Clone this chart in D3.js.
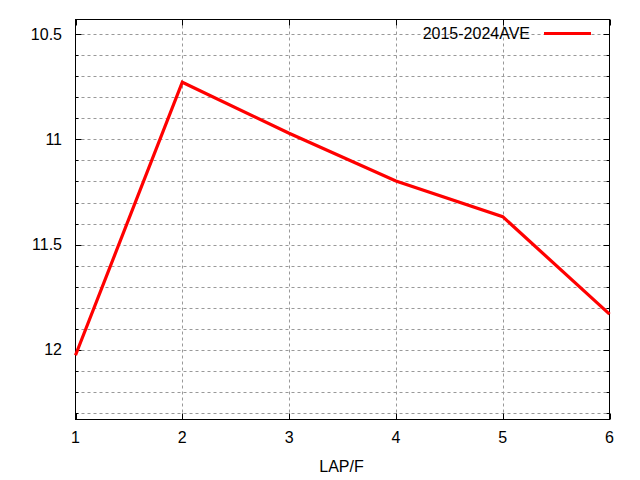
<!DOCTYPE html>
<html>
<head>
<meta charset="utf-8">
<script src="https://cdn.jsdelivr.net/npm/d3@7"></script>
<style>
body{margin:0;background:#fff;}
text{font-family:"Liberation Sans",Arial,sans-serif;font-size:16px;fill:#000;}
</style>
</head>
<body>
<svg id="c" width="640" height="480"></svg>
<script>
const laps = [1, 2, 3, 4, 5, 6];
const times = [12.025, 10.729, 10.971, 11.198, 11.367, 11.83];
const seriesName = "2015-2024AVE";
const xLabel = "LAP/F";
const yMajorTicks = [10.5, 11, 11.5, 12];
const yMinorTicks = [10.5,10.6,10.7,10.8,10.9,11,11.1,11.2,11.3,11.4,11.5,11.6,11.7,11.8,11.9,12,12.1,12.2,12.3];
const xTicks = [1, 2, 3, 4, 5, 6];

const svg = d3.select("#c");
const L = 75.5, R = 609.5, T = 19.5, B = 419.5;
const x = d3.scaleLinear().domain([1, 6]).range([L, R]);
const y = d3.scaleLinear().domain([10.431, 12.33]).range([T, B]);

const g = svg.append("g");
g.selectAll(".hg").data(yMinorTicks).enter().append("line")
  .attr("x1", L).attr("x2", R)
  .attr("y1", d => Math.round(y(d)) + 0.5).attr("y2", d => Math.round(y(d)) + 0.5)
  .attr("stroke", "#999").attr("stroke-width", 1).attr("stroke-dasharray", "3,3");
g.selectAll(".vg").data(xTicks.slice(1, -1)).enter().append("line")
  .attr("y1", T).attr("y2", B)
  .attr("x1", d => Math.round(x(d)) + 0.5).attr("x2", d => Math.round(x(d)) + 0.5)
  .attr("stroke", "#999").attr("stroke-width", 1).attr("stroke-dasharray", "3,3");

const tk = svg.append("g").attr("stroke", "#000").attr("stroke-width", 1);
yMinorTicks.forEach(d => {
  const major = yMajorTicks.some(m => Math.abs(m - d) < 1e-9);
  const len = major ? 6 : 3;
  const yy = Math.round(y(d)) + 0.5;
  tk.append("line").attr("x1", L).attr("x2", L + len).attr("y1", yy).attr("y2", yy);
  tk.append("line").attr("x1", R).attr("x2", R - len).attr("y1", yy).attr("y2", yy);
});
xTicks.forEach(d => {
  const xx = Math.round(x(d)) + 0.5;
  tk.append("line").attr("x1", xx).attr("x2", xx).attr("y1", B).attr("y2", B - 6);
  tk.append("line").attr("x1", xx).attr("x2", xx).attr("y1", T).attr("y2", T + 6);
});

svg.append("rect").attr("x", L).attr("y", T).attr("width", R - L).attr("height", B - T)
  .attr("fill", "none").attr("stroke", "#000").attr("stroke-width", 1);

svg.selectAll(".yl").data(yMajorTicks).enter().append("text")
  .attr("x", 62).attr("y", d => y(d) + 5.5).attr("text-anchor", "end")
  .text(d => d3.format("")(d));
svg.selectAll(".xl").data(xTicks).enter().append("text")
  .attr("x", d => x(d)).attr("y", 443).attr("text-anchor", "middle")
  .text(d => d);
svg.append("text").attr("x", (L + R) / 2 - 1).attr("y", 472).attr("text-anchor", "middle").text(xLabel);

const line = d3.line().x((d, i) => x(laps[i])).y(d => y(d));
svg.append("path").datum(times).attr("d", line)
  .attr("fill", "none").attr("stroke", "#ff0000").attr("stroke-width", 3.2)
  .attr("stroke-linejoin", "miter");

svg.append("text").attr("x", 530).attr("y", 38.5).attr("text-anchor", "end").text(seriesName);
svg.append("line").attr("x1", 544).attr("x2", 591).attr("y1", 33.5).attr("y2", 33.5)
  .attr("stroke", "#ff0000").attr("stroke-width", 3);
</script>
</body>
</html>
